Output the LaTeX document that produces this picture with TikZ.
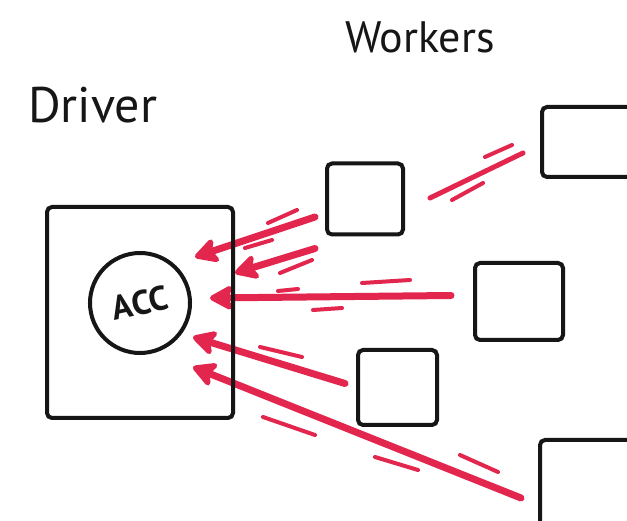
\documentclass[tikz,border=0pt]{standalone}
\usepackage{fontspec}
\setmainfont{PT Sans}
\usetikzlibrary{arrows.meta, positioning, calc}
\definecolor{inkred}{HTML}{E2264D}
\definecolor{inkblk}{HTML}{161616}

\begin{document}
\begin{tikzpicture}[
  x=1pt, y=-1pt,
  >={Stealth[length=28pt, width=30pt, inset=7pt, round]},
  flow/.style={->, line width=7pt, inkred, line cap=round},
  trail/.style={line width=5pt, inkred, line cap=round},
  speed/.style={line width=4pt, inkred, line cap=round},
]

% =============================================
% Box styles
% =============================================
\tikzset{
  workbox/.style 2 args={
    draw=inkblk, line width=4pt, rounded corners=5pt,
    minimum width=#1, minimum height=#2, inner sep=0pt,
  },
  hand/.style={inner sep=0pt, text=inkblk, font=\fontsize{#1}{#1}\selectfont},
}

% =============================================
% Page
% =============================================
\useasboundingbox (0,0) rectangle (627,521);
\fill[white] (0,0) rectangle (627,521);
\clip (0,0) rectangle (627,521);

% =============================================
% Labels
% =============================================
\node[hand=50, anchor=base west] (drvlbl) at (28,123) {Driver};
\node[hand=44, anchor=base west] (wklbl) at (345,53) {Workers};

% =============================================
% Workers
% =============================================
\node[workbox={76pt}{71pt}] (w1) at (365,199) {};
\node[workbox={100pt}{70pt}] (w2) at (592,142) {};
\node[workbox={88pt}{77pt}] (w3) at (519,301.5) {};
\node[workbox={79pt}{75pt}] (w4) at (397.5,387.5) {};
\node[workbox={100pt}{100pt}] (w5) at (590,490) {};

% =============================================
% Updates sent back to the driver
% =============================================
\coordinate (t1) at (195,257);
\coordinate (t2) at (235,273);
\coordinate (t3) at (210,298);
\coordinate (t4) at (193,337);
\coordinate (t5) at (193,367);

\draw[trail] ($(w2.west)+(-17,11)$) -- ($(w1.east)+(25,-1)$);
\draw[flow] ($(w1.west)+(-10,18)$) -- (t1);
\draw[flow] ($(w1.south west)+(-10,12)$) -- (t2);
\draw[flow] ($(w3.west)+(-22,-6)$) -- (t3);
\draw[flow] ($(w4.west)+(-11,-4)$) -- (t4);
\draw[flow] ($(w5.west)+(-17,8)$) -- (t5);

% speed strokes
\draw[speed] (485,157) -- (512,145);
\draw[speed] (452,200) -- (483,183);
\draw[speed] (268,223) -- (297,210);
\draw[speed] (245,248) -- (272,240);
\draw[speed] (280,273) -- (312,260);
\draw[speed] (278,291) -- (298,289);
\draw[speed] (362,283) -- (410,280);
\draw[speed] (313,310) -- (342,308);
\draw[speed] (260,347) -- (302,357);
\draw[speed] (263,417) -- (315,435);
\draw[speed] (375,457) -- (418,470);
\draw[speed] (460,455) -- (498,472);

% =============================================
% Driver with its accumulator
% =============================================
\node[workbox={186pt}{211pt}] (drv) at (140,312.5) {};
\node[circle, draw=inkblk, line width=4pt, minimum size=100pt, hand=34,
  rotate=12, font=\fontsize{34}{34}\selectfont\bfseries] (acc) at (140,303) {ACC};

\end{tikzpicture}
\end{document}
